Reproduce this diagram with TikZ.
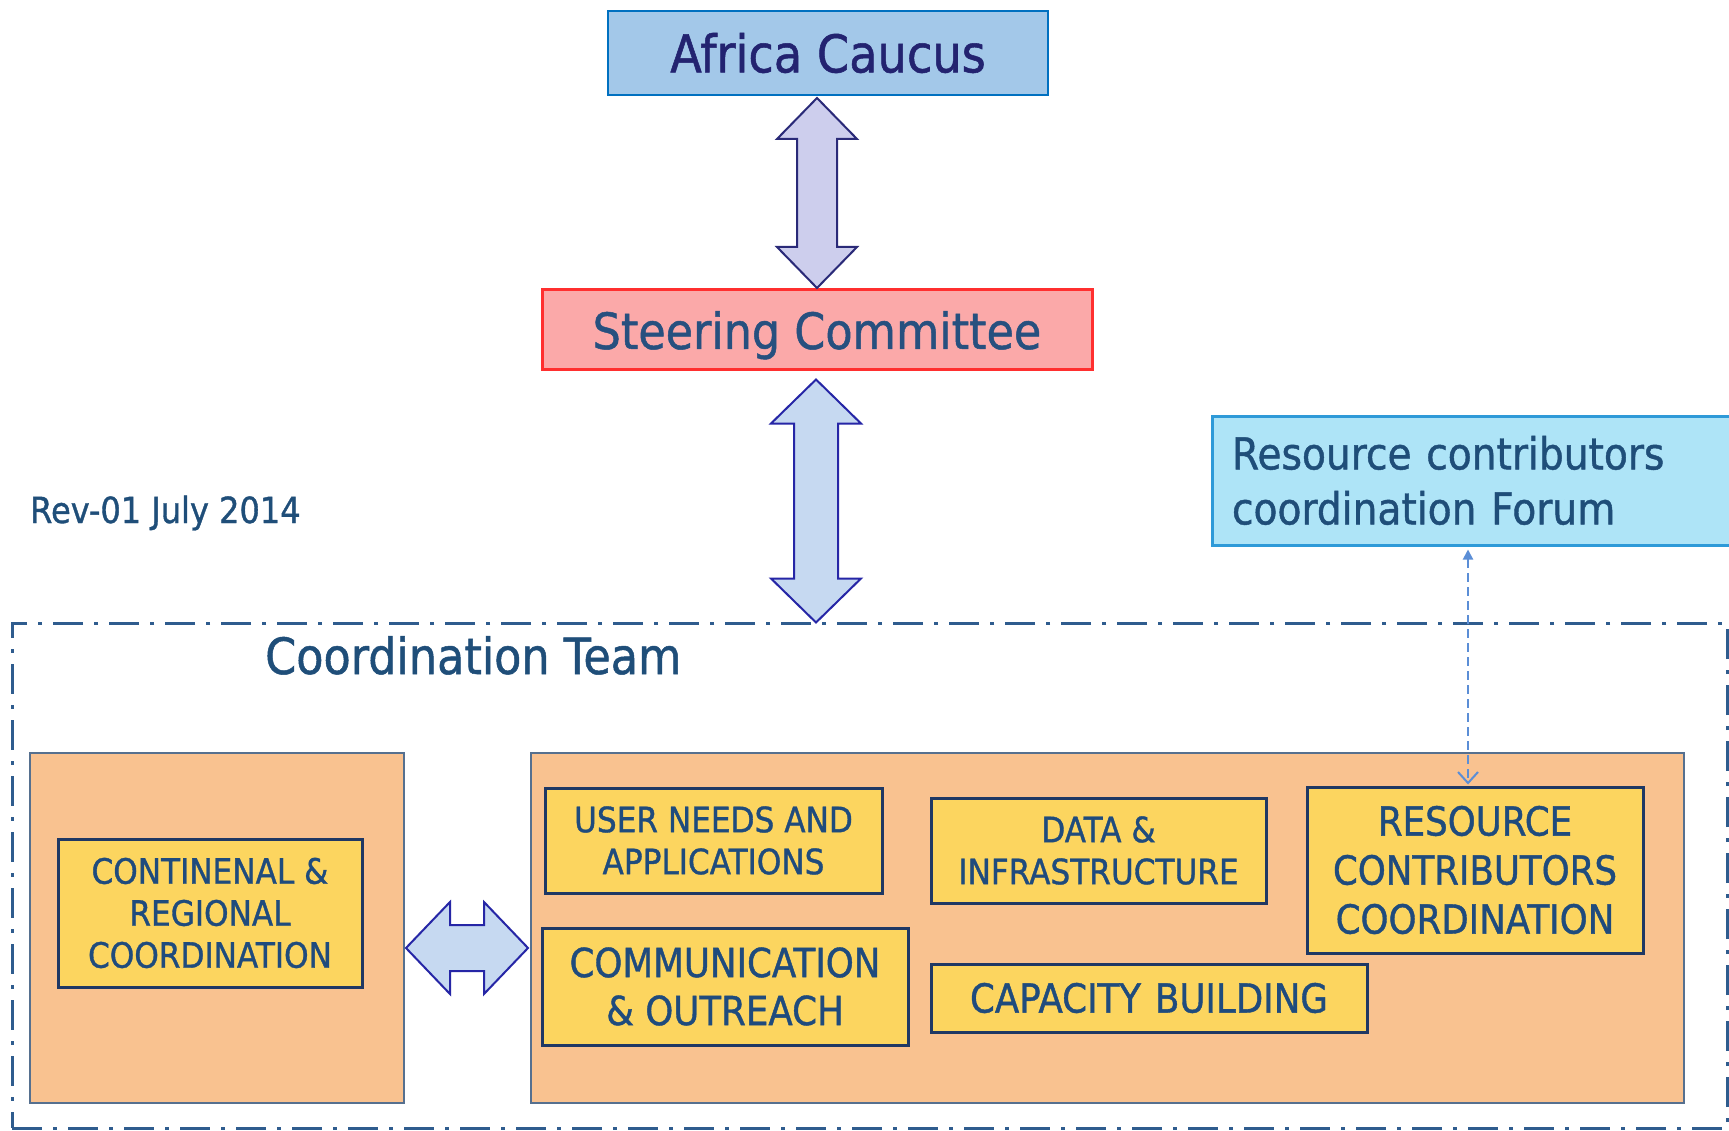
\documentclass[tikz,border=0pt]{standalone}
\usepackage{fontspec}
\setmainfont{DejaVu Sans}[FakeStretch=0.89,FakeBold=1]
\usetikzlibrary{arrows.meta,calc}
\definecolor{afill}{HTML}{A3C8E9}
\definecolor{adraw}{HTML}{0070C0}
\definecolor{atext}{HTML}{232370}
\definecolor{sfill}{HTML}{FBA9A9}
\definecolor{sdraw}{HTML}{FF2F2F}
\definecolor{stext}{HTML}{27507F}
\definecolor{ffill}{HTML}{AEE4F7}
\definecolor{fdraw}{HTML}{2E9AD8}
\definecolor{ftext}{HTML}{1F4E79}
\definecolor{ofill}{HTML}{F9C290}
\definecolor{odraw}{HTML}{56708F}
\definecolor{yfill}{HTML}{FCD55F}
\definecolor{ydraw}{HTML}{1F3864}
\definecolor{ytext}{HTML}{1F4B7D}
\definecolor{aonefill}{HTML}{CDCEED}
\definecolor{aonedraw}{HTML}{2A2A78}
\definecolor{atwofill}{HTML}{C6D9F1}
\definecolor{atwodraw}{HTML}{2626A6}
\definecolor{dcol}{HTML}{5B8ED6}
\definecolor{framecol}{HTML}{2F5C8E}
\tikzset{
  box/.style={draw, rectangle, inner sep=0pt, align=center},
  ybox/.style={box, fill=yfill, draw=ydraw, line width=3pt, text=ytext},
  obox/.style={box, fill=ofill, draw=odraw, line width=2pt},
  blockone/.style={fill=aonefill, draw=aonedraw, line width=2pt, line join=miter},
  blocktwo/.style={fill=atwofill, draw=atwodraw, line width=2pt, line join=miter},
  framebox/.style={draw=framecol, line width=3pt, dash pattern=on 30pt off 11pt on 4pt off 11pt},
  linkdash/.style={draw=dcol, line width=2pt, dash pattern=on 9pt off 5pt,
    {Triangle[length=10pt,width=10pt]}-{Straight Barb[length=11pt,width=20pt,line width=2pt]}}
}
\begin{document}
\begin{tikzpicture}[x=1pt,y=-1pt]
\useasboundingbox (0,0) rectangle (1729,1131);
\fill[white] (0,0) rectangle (1729,1131);

% coordination frame
\node[framebox, rectangle, inner sep=0pt, minimum width=1715pt, minimum height=505pt] (frame) at (869.5,875.5) {};
\node[anchor=base west, text=ftext, font=\fontsize{50}{56}\selectfont, inner sep=0pt] (ctitle) at (265,674) {Coordination Team};
\node[anchor=base west, text=ftext, font=\fontsize{36}{42}\selectfont, inner sep=0pt] (rev) at (30,523) {Rev-01 July 2014};

% top boxes
\node[box, fill=afill, draw=adraw, line width=2pt, minimum width=440pt, minimum height=84pt,
      text=atext, font=\fontsize{52}{60}\selectfont] (africa) at (828,53) {Africa Caucus};
\node[box, fill=sfill, draw=sdraw, line width=3pt, minimum width=550pt, minimum height=80pt,
      text=stext, text depth=0pt, font=\fontsize{50}{58}\selectfont] (steer) at (817,330) {Steering Committee};
\node[box, fill=ffill, draw=fdraw, line width=3pt, minimum width=548pt, minimum height=129pt,
      text width=508pt, align=left, inner xsep=20pt, inner ysep=0pt,
      text=ftext, font=\fontsize{44}{55}\selectfont] (forum) at (1486,480.5) {Resource contributors\\coordination Forum};

% orange containers
\node[obox, minimum width=374pt, minimum height=350pt] (lorange) at (217,928) {};
\node[obox, minimum width=1153pt, minimum height=350pt] (rorange) at (1107.5,928) {};

% yellow boxes
\node[ybox, minimum width=304pt, minimum height=148pt, font=\fontsize{35}{42}\selectfont] (cont) at (210,913)
  {CONTINENAL \&\\REGIONAL\\COORDINATION};
\node[ybox, minimum width=337pt, minimum height=105pt, font=\fontsize{35}{42}\selectfont] (user) at (713.5,840.5)
  {USER NEEDS AND\\APPLICATIONS};
\node[ybox, minimum width=366pt, minimum height=117pt, font=\fontsize{40}{48}\selectfont] (comm) at (725,986.5)
  {COMMUNICATION\\\& OUTREACH};
\node[ybox, minimum width=335pt, minimum height=105pt, font=\fontsize{35}{42}\selectfont] (data) at (1098.5,850.5)
  {DATA \&\\INFRASTRUCTURE};
\node[ybox, minimum width=436pt, minimum height=68pt, font=\fontsize{40}{48}\selectfont] (cap) at (1149,998)
  {CAPACITY\hspace{0.35em}BUILDING};
\node[ybox, minimum width=336pt, minimum height=166pt, font=\fontsize{40}{49}\selectfont] (res) at (1475,870)
  {RESOURCE\\CONTRIBUTORS\\COORDINATION};

% block arrow: Africa Caucus <-> Steering Committee
\draw[blockone] ($(steer.north |- africa.south)+(0,2)$) -- ++(40,41) -- ++(-20,0) -- ++(0,108)
  -- ++(20,0) -- ++(-40,41) -- ++(-40,-41) -- ++(20,0) -- ++(0,-108) -- ++(-20,0) -- cycle;

% block arrow: Steering Committee <-> Coordination Team
\draw[blocktwo] ($(steer.south)+(-1,8)$) -- ++(45,44) -- ++(-23,0) -- ++(0,155)
  -- ++(23,0) -- ++(-45,44) -- ++(-45,-44) -- ++(23,0) -- ++(0,-155) -- ++(-23,0) -- cycle;

% block arrow: left container <-> right container
\draw[blocktwo] ($(lorange.east)+(1,20)$) -- ++(44,-46) -- ++(0,23) -- ++(34,0) -- ++(0,-23)
  -- ++(44,46) -- ++(-44,46) -- ++(0,-23) -- ++(-34,0) -- ++(0,23) -- cycle;

% dashed link forum <-> resource contributors coordination
\coordinate (lnkb) at ($(res.north)+(-7,-1)$);
\draw[linkdash] (lnkb |- forum.south) ++(0,3) -- (lnkb);
\end{tikzpicture}
\end{document}
